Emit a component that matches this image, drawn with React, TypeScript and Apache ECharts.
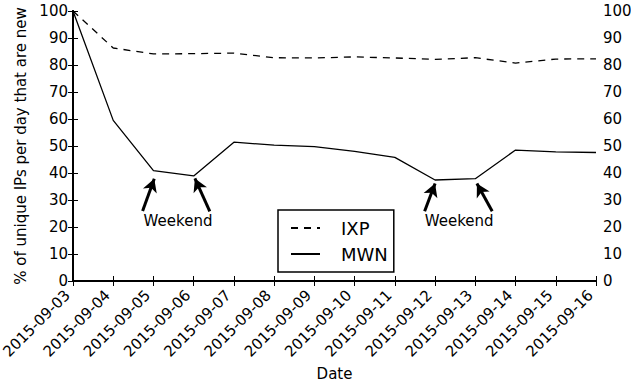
import React, { useEffect, useRef } from "react";
import * as echarts from "echarts";

const dates = [
  "2015-09-03", "2015-09-04", "2015-09-05", "2015-09-06", "2015-09-07",
  "2015-09-08", "2015-09-09", "2015-09-10", "2015-09-11", "2015-09-12",
  "2015-09-13", "2015-09-14", "2015-09-15", "2015-09-16",
];
const ixp = [100, 86.3, 84.1, 84.2, 84.4, 82.7, 82.6, 83.0, 82.6, 82.1, 82.7, 80.7, 82.2, 82.3];
const mwn = [100, 59.5, 40.9, 38.9, 51.4, 50.3, 49.8, 48.0, 45.8, 37.4, 37.9, 48.5, 47.8, 47.6];
const yTicks = [0, 10, 20, 30, 40, 50, 60, 70, 80, 90, 100];
// annotation positions in data coordinates: [x index, value]
const arrows: [number[], number[]][] = [
  [[1.73, 25.9], [2.02, 37.9]],
  [[3.4, 25.8], [3.03, 38.0]],
  [[8.74, 25.8], [9.0, 36.1]],
  [[10.42, 25.8], [10.04, 36.1]],
];
const weekendLabels = [
  [2.61, 22.3],
  [9.6, 22.3],
];

const FONT = "DejaVu Sans";

export default function App() {
  const ref = useRef<HTMLDivElement>(null);
  useEffect(() => {
    if (!ref.current) return;
    const chart = echarts.init(ref.current, undefined, { renderer: "svg" });
    const xCommon = {
      type: "value" as const,
      min: 0,
      max: dates.length - 1,
      interval: 1,
      splitLine: { show: false },
      axisLine: { show: true, lineStyle: { color: "#000", width: 2 } },
      axisTick: { show: true, inside: true, length: 5, lineStyle: { color: "#000", width: 1 } },
    };
    const yCommon = {
      type: "value" as const,
      min: yTicks[0],
      max: yTicks[yTicks.length - 1],
      interval: 10,
      splitLine: { show: false },
      axisLine: { show: true, lineStyle: { color: "#000", width: 2 } },
      axisTick: { show: true, inside: true, length: 5, lineStyle: { color: "#000", width: 1 } },
    };
    chart.setOption({
      animation: false,
      textStyle: { fontFamily: FONT },
      grid: { left: 73, right: 35, top: 11, bottom: 101, containLabel: false, outerBoundsMode: "none" },
      legend: {
        data: ["IXP", "MWN"],
        orient: "vertical",
        left: 278,
        top: 210,
        padding: [9, 6, 9, 12],
        itemWidth: 29,
        itemHeight: 18,
        itemGap: 8,
        borderColor: "#000",
        borderWidth: 1.5,
        borderRadius: 0,
        itemStyle: { opacity: 0 },
        textStyle: { fontFamily: FONT, fontSize: 18, color: "#000", padding: [0, 0, 0, 16] },
        selectedMode: false,
      },
      xAxis: [
        {
          ...xCommon,
          position: "bottom",
          name: "Date",
          nameLocation: "middle",
          nameGap: 84,
          nameTextStyle: { fontFamily: FONT, fontSize: 15, color: "#000" },
          axisLabel: {
            rotate: 45,
            margin: 6,
            padding: [0, 8, 0, 0],
            fontFamily: FONT,
            fontSize: 15,
            color: "#000",
            formatter: (v: number) => dates[Math.round(v)] ?? "",
          },
        },
        { ...xCommon, position: "top", axisLabel: { show: false } },
      ],
      yAxis: [
        {
          ...yCommon,
          position: "left",
          name: "% of unique IPs per day that are new",
          nameLocation: "middle",
          nameGap: 31,
          nameTextStyle: { fontFamily: FONT, fontSize: 15, color: "#000" },
          axisLabel: { margin: 5, fontFamily: FONT, fontSize: 15, color: "#000" },
        },
        {
          ...yCommon,
          position: "right",
          axisLabel: { margin: 7, fontFamily: FONT, fontSize: 15, color: "#000" },
        },
      ],
      series: [
        {
          name: "IXP",
          type: "line",
          data: ixp.map((v, i) => [i, v]),
          showSymbol: false,
          symbol: "none",
          lineStyle: { color: "#000", width: 1.3, type: [7, 6] },
          itemStyle: { color: "#000" },
          silent: true,
        },
        {
          name: "MWN",
          type: "line",
          data: mwn.map((v, i) => [i, v]),
          showSymbol: false,
          symbol: "none",
          lineStyle: { color: "#000", width: 1.3, type: "solid" },
          itemStyle: { color: "#000" },
          silent: true,
        },
        {
          name: "annotations",
          type: "scatter",
          data: weekendLabels,
          symbolSize: 0,
          silent: true,
          itemStyle: { color: "#000", opacity: 1 },
          label: {
            show: true,
            position: "inside",
            formatter: "Weekend",
            fontFamily: FONT,
            fontSize: 15,
            color: "#000",
            opacity: 1,
            textBorderWidth: 0,
          },
          markLine: {
            silent: true,
            symbol: ["none", "arrow"],
            symbolSize: [11, 13],
            label: { show: false },
            lineStyle: { color: "#000", width: 3, type: "solid", opacity: 1 },
            emphasis: { disabled: true },
            data: arrows.map(([a, b]) => [{ coord: a }, { coord: b }]),
          },
        },
      ],
    });
    return () => chart.dispose();
  }, []);
  return <div ref={ref} style={{ width: 631, height: 382, position: "absolute", left: 0, top: 0 }} />;
}
